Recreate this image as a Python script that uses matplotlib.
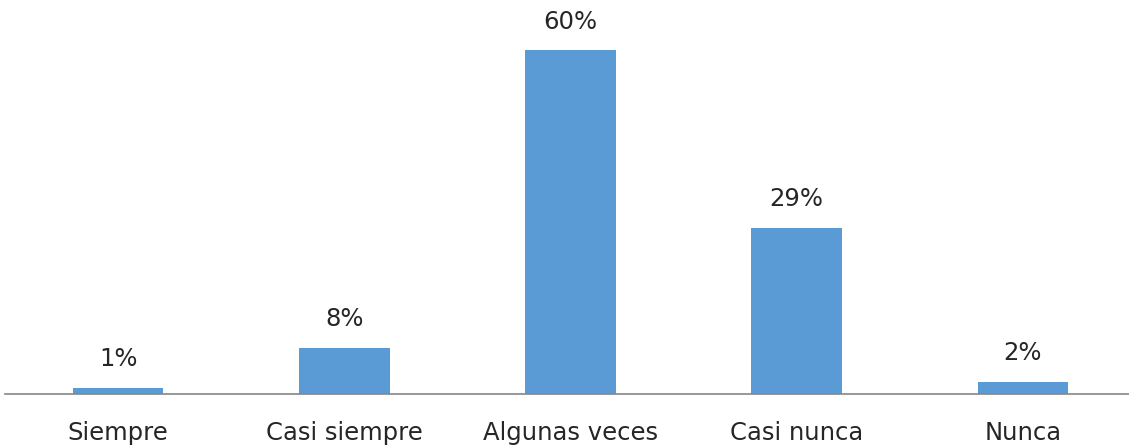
import matplotlib.pyplot as plt

categories = ["Siempre", "Casi siempre", "Algunas veces", "Casi nunca", "Nunca"]
values = [1, 8, 60, 29, 2]

BAR = "#5B9BD5"
AXIS = "#868686"
TEXT = "#262626"

plt.rcParams["font.family"] = ["DejaVu Sans"]

W, H = 1129, 447
fig = plt.figure(figsize=(W / 100, H / 100), dpi=100)
# axes spans the category band; right end runs past the canvas like the original
base = 393.5
top = 21.9
ax = fig.add_axes([5 / W, (H - base) / H, 1131 / W, (base - top) / H])

bars = ax.bar(range(len(categories)), values, width=0.4, color=BAR)
ax.bar_label(bars, labels=[f"{v}%" for v in values], padding=12,
             fontsize=17.5, color=TEXT)

ax.set_xlim(-0.5, len(categories) - 0.5)
ax.set_ylim(0, 65)
ax.set_xticks(range(len(categories)), categories, fontsize=17.5, color=TEXT)
ax.tick_params(axis="x", length=0, pad=20)
ax.set_yticks([])
for side in ("top", "right", "left"):
    ax.spines[side].set_visible(False)
ax.spines["bottom"].set_color(AXIS)
ax.spines["bottom"].set_linewidth(1.2)

fig.savefig("out.png", dpi=100)
